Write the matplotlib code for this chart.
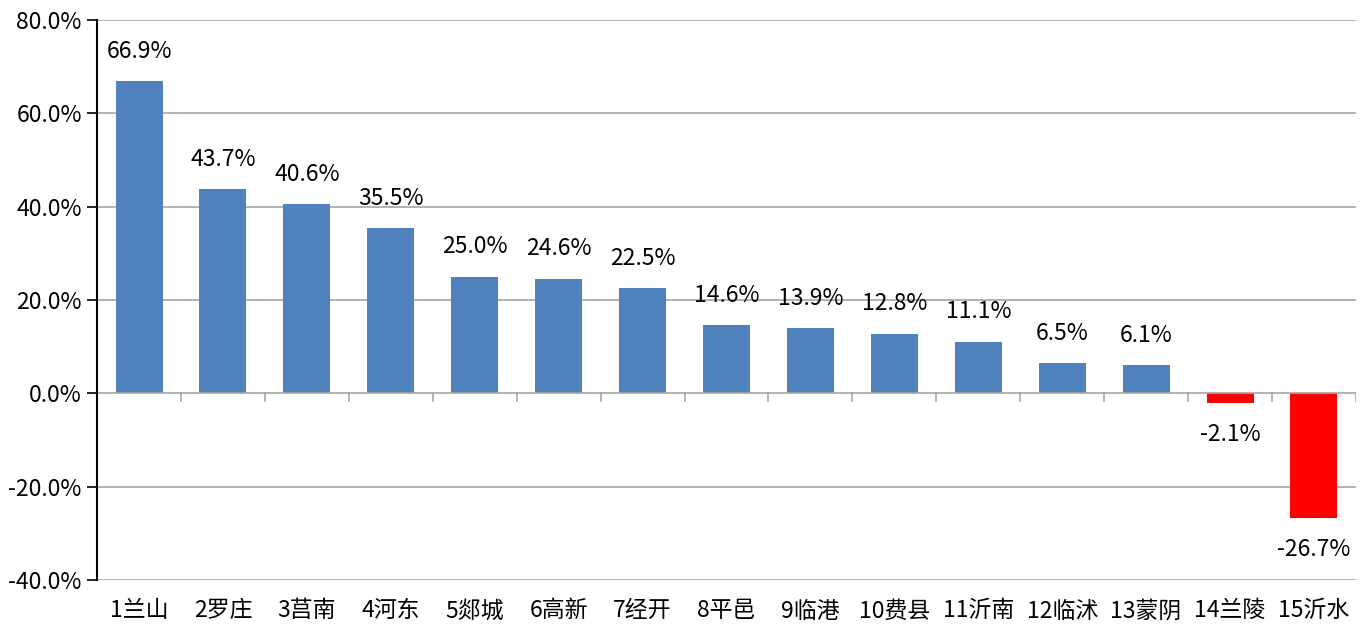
import numpy as np
import matplotlib.pyplot as plt

plt.rcParams['font.family'] = ['Noto Sans CJK SC', 'DejaVu Sans']

regions = ['1兰山', '2罗庄', '3莒南', '4河东', '5郯城', '6高新', '7经开', '8平邑',
           '9临港', '10费县', '11沂南', '12临沭', '13蒙阴', '14兰陵', '15沂水']
growth = [66.9, 43.7, 40.6, 35.5, 25.0, 24.6, 22.5, 14.6,
          13.9, 12.8, 11.1, 6.5, 6.1, -2.1, -26.7]
yticks = [-40, -20, 0, 20, 40, 60, 80]

fig = plt.figure(figsize=(13.71, 6.27), dpi=100)
ax = fig.add_axes([0.0708, 0.075, 0.9182, 0.893])

x = np.arange(len(regions))
colors = ['#4F81BD' if v >= 0 else '#FF0000' for v in growth]
ax.bar(x, growth, width=0.56, color=colors, zorder=3)

for xi, v in zip(x, growth):
    if v >= 0:
        ax.text(xi, v + 3.9, f'{v:.1f}%', ha='center', va='bottom', fontsize=16.5)
    else:
        ax.text(xi, v - 4.2, f'{v:.1f}%', ha='center', va='top', fontsize=16.5)

ax.set_xlim(-0.5, len(regions) - 0.5)
ax.set_ylim(-40, 80)
ax.set_yticks(yticks)
ax.set_yticklabels([f'{t:.1f}%' for t in yticks], fontsize=16.5)

for t in yticks:
    if t != 0:
        ax.axhline(t, color='#A6A6A6', linewidth=1.2, zorder=1)
ax.axhline(0, color='#A6A6A6', linewidth=1.2, zorder=4)
# small ticks hanging from the zero line between categories
for b in np.arange(0.5, len(regions), 1.0):
    ax.plot([b, b], [0, -1.7], color='#A6A6A6', linewidth=1.2, zorder=4)

ax.set_xticks(x)
ax.set_xticklabels(regions, fontsize=16.5)
ax.tick_params(axis='x', length=0, pad=14)
ax.tick_params(axis='y', length=7, width=1.2, pad=4)

for s in ['top', 'right', 'bottom']:
    ax.spines[s].set_visible(False)
ax.spines['left'].set_linewidth(1.5)
ax.spines['left'].set_zorder(5)

fig.savefig('out.png', dpi=100)
